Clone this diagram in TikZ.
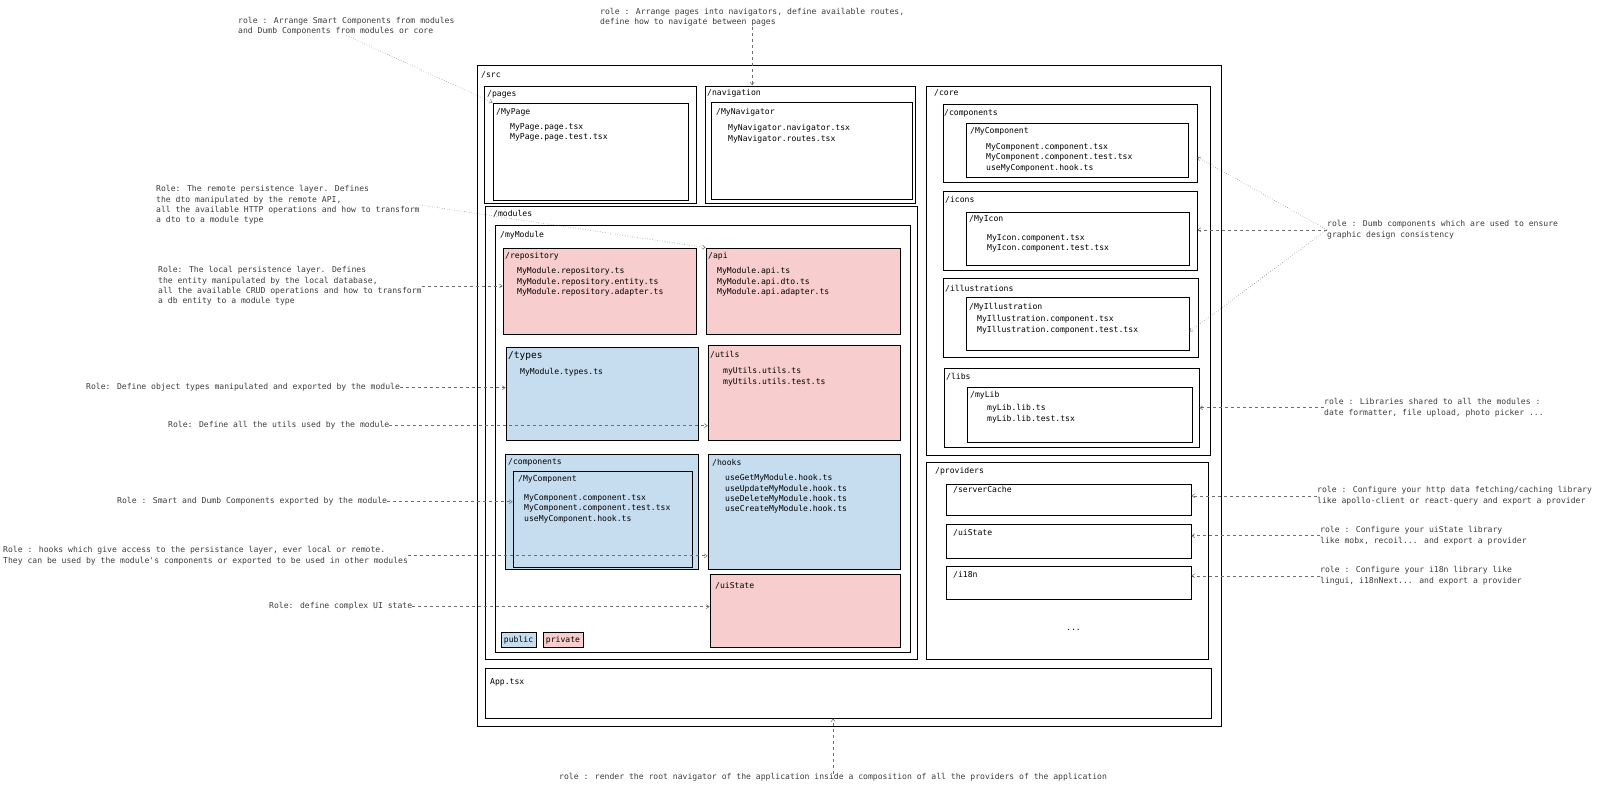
\documentclass[tikz,border=0pt]{standalone}
\usepackage{fontspec}
\newfontfamily\codefont{DejaVu Sans Mono}
\newcommand\codesize{\fontsize{8.1}{10.2}\selectfont}
\usetikzlibrary{arrows.meta,fit,calc}

\begin{document}
\begin{tikzpicture}[x=1pt,y=-1pt,
    folder/.style={draw=black,line width=0.7pt,inner sep=0pt},
    privfolder/.style={folder,fill=privpink},
    pubfolder/.style={folder,fill=pubblue},
    dirname/.style={anchor=north west,inner sep=0pt,font=\codefont\codesize},
    filelist/.style={anchor=north west,inner sep=0pt,align=left,font=\codefont\codesize},
    rolenote/.style={anchor=north west,inner sep=0pt,align=left,text=notegray,font=\codefont\codesize},
    rolelink/.style={draw=linkgray,dashed,line width=0.5pt,-{Straight Barb[length=3pt,width=4pt]}},
    roledots/.style={rolelink,dotted}]
    % Define colors
    \definecolor{privpink}{RGB}{247,205,205}
    \definecolor{pubblue}{RGB}{198,221,240}
    \definecolor{notegray}{RGB}{60,60,60}
    \definecolor{linkgray}{RGB}{110,110,110}

    \useasboundingbox (0,0) rectangle (1600,795);

    % Draw the /src folder
    \node[folder,fit={(477,65) (1221,726)}] (src) {};
    \node[dirname] (srcname) at (481,71.5) {/src};

    % Draw the pages and navigation folders
    \node[folder,fit={(484,86) (696,203)}] (pages) {};
    \node[dirname] (pagesname) at (487,90.5) {/pages};
    \node[folder,fit={(493,103) (688,200)}] (mypage) {};
    \node[dirname] (mypagename) at (496,108.5) {/MyPage};
    \node[filelist] (mypagefiles) at (510,123.5) {MyPage.page.tsx\\MyPage.page.test.tsx};

    \node[folder,fit={(705,86) (915,203)}] (navigation) {};
    \node[dirname] (navigationname) at (707,89.5) {/navigation};
    \node[folder,fit={(711,102) (912,199)}] (mynavigator) {};
    \node[dirname] (mynavigatorname) at (716,108.5) {/MyNavigator};
    \node[filelist] (mynavigatorfiles) at (728,124.5) {MyNavigator.navigator.tsx\\MyNavigator.routes.tsx};

    % Draw the /modules folder
    \node[folder,fit={(485,206) (917,659)}] (modules) {};
    \node[dirname] (modulesname) at (493,210.5) {/modules};
    \node[folder,fit={(495,225) (910,652)}] (mymodule) {};
    \node[dirname] (mymodulename) at (500,231.5) {/myModule};

    \node[privfolder,fit={(503,248) (696,334)}] (repository) {};
    \node[dirname] (repositoryname) at (505,252.5) {/repository};
    \node[filelist] (repositoryfiles) at (517,267.5) {MyModule.repository.ts\\MyModule.repository.entity.ts\\MyModule.repository.adapter.ts};

    \node[privfolder,fit={(706,248) (900,334)}] (api) {};
    \node[dirname] (apiname) at (708,252.5) {/api};
    \node[filelist] (apifiles) at (717,267.5) {MyModule.api.ts\\MyModule.api.dto.ts\\MyModule.api.adapter.ts};

    \node[pubfolder,fit={(506,347) (698,440)}] (types) {};
    \node[dirname,font=\codefont\fontsize{9.5}{11}\selectfont] (typesname) at (508,351.5) {/types};
    \node[filelist] (typesfiles) at (520,368.5) {MyModule.types.ts};

    \node[privfolder,fit={(708,345) (900,440)}] (utils) {};
    \node[dirname] (utilsname) at (710,351.5) {/utils};
    \node[filelist] (utilsfiles) at (723,367.5) {myUtils.utils.ts\\myUtils.utils.test.ts};

    \node[pubfolder,fit={(505,454) (698,569)}] (components) {};
    \node[dirname] (componentsname) at (508,458.5) {/components};
    \node[folder,fit={(513,471) (692,567)}] (mycomponent) {};
    \node[dirname] (mycomponentname) at (518,475.5) {/MyComponent};
    \node[filelist] (mycomponentfiles) at (524,494.5) {MyComponent.component.tsx\\MyComponent.component.test.tsx\\useMyComponent.hook.ts};

    \node[pubfolder,fit={(708,454) (900,569)}] (hooks) {};
    \node[dirname] (hooksname) at (712,459.5) {/hooks};
    \node[filelist] (hooksfiles) at (725,474.5) {useGetMyModule.hook.ts\\useUpdateMyModule.hook.ts\\useDeleteMyModule.hook.ts\\useCreateMyModule.hook.ts};

    \node[privfolder,fit={(710,574) (900,647)}] (uistate) {};
    \node[dirname] (uistatename) at (715,582.5) {/uiState};

    % Draw the legend
    \node[pubfolder,font=\codefont\codesize,inner sep=2pt,minimum width=35pt,minimum height=15pt] (public) at (518.5,640) {public};
    \node[privfolder,font=\codefont\codesize,inner sep=2pt,minimum width=40pt,minimum height=15pt] (private) at (563,640) {private};

    % Draw the /core folder
    \node[folder,fit={(926,86) (1210,455)}] (core) {};
    \node[dirname] (corename) at (934,89.5) {/core};

    \node[folder,fit={(943,104) (1197,182)}] (corecomponents) {};
    \node[dirname] (corecomponentsname) at (944,109.5) {/components};
    \node[folder,fit={(966,123) (1188,177)}] (corecomponent) {};
    \node[dirname] (corecomponentname) at (970,127.5) {/MyComponent};
    \node[filelist] (corecomponentfiles) at (986,143.5) {MyComponent.component.tsx\\MyComponent.component.test.tsx\\useMyComponent.hook.ts};

    \node[folder,fit={(943,191) (1197,270)}] (icons) {};
    \node[dirname] (iconsname) at (945,196.5) {/icons};
    \node[folder,fit={(966,212) (1189,265)}] (myicon) {};
    \node[dirname] (myiconname) at (969,215.5) {/MyIcon};
    \node[filelist] (myiconfiles) at (987,234.5) {MyIcon.component.tsx\\MyIcon.component.test.tsx};

    \node[folder,fit={(943,278) (1198,357)}] (illustrations) {};
    \node[dirname] (illustrationsname) at (945,285.5) {/illustrations};
    \node[folder,fit={(966,297) (1189,350)}] (myillustration) {};
    \node[dirname] (myillustrationname) at (969,303.5) {/MyIllustration};
    \node[filelist] (myillustrationfiles) at (977,315.5) {MyIllustration.component.tsx\\MyIllustration.component.test.tsx};

    \node[folder,fit={(944,368) (1199,447)}] (libs) {};
    \node[dirname] (libsname) at (946,373.5) {/libs};
    \node[folder,fit={(967,387) (1192,442)}] (mylib) {};
    \node[dirname] (mylibname) at (970,391.5) {/myLib};
    \node[filelist] (mylibfiles) at (987,404.5) {myLib.lib.ts\\myLib.lib.test.tsx};

    % Draw the /providers folder
    \node[folder,fit={(926,462) (1208,659)}] (providers) {};
    \node[dirname] (providersname) at (935,467.5) {/providers};
    \node[folder,fit={(946,484) (1191,515)}] (servercache) {};
    \node[dirname] (servercachename) at (953,486.5) {/serverCache};
    \node[folder,fit={(946,524) (1191,558)}] (uistatelib) {};
    \node[dirname] (uistatelibname) at (953,529.5) {/uiState};
    \node[folder,fit={(946,566) (1191,599)}] (i18n) {};
    \node[dirname] (i18nname) at (953,571.5) {/i18n};
    \node[dirname] (moreproviders) at (1066,629.5) {...};

    % Draw the App.tsx file
    \node[folder,fit={(485,668) (1211,718)}] (app) {};
    \node[dirname] (appname) at (490,678.5) {App.tsx};

    % Role notes
    \node[rolenote] (notepages) at (238,17) {role : Arrange Smart Components from modules\\and Dumb Components from modules or core};
    \node[rolenote] (notenav) at (600,8) {role : Arrange pages into navigators, define available routes,\\define how to navigate between pages};
    \node[rolenote] (noteremote) at (156,185.5) {Role: The remote persistence layer. Defines\\the dto manipulated by the remote API,\\all the available HTTP operations and how to transform\\a dto to a module type};
    \node[rolenote] (notelocal) at (158,266.5) {Role: The local persistence layer. Defines\\the entity manipulated by the local database,\\all the available CRUD operations and how to transform\\a db entity to a module type};
    \node[rolenote] (notetypes) at (86,383.5) {Role: Define object types manipulated and exported by the module};
    \node[rolenote] (noteutils) at (168,421.5) {Role: Define all the utils used by the module};
    \node[rolenote] (notecomponents) at (117,497.5) {Role : Smart and Dumb Components exported by the module};
    \node[rolenote] (notehooks) at (3,546.5) {Role : hooks which give access to the persistance layer, ever local or remote.\\They can be used by the module's components or exported to be used in other modules};
    \node[rolenote] (noteuistate) at (269,602.5) {Role: define complex UI state};
    \node[rolenote] (notedumb) at (1327,220.5) {role : Dumb components which are used to ensure\\graphic design consistency};
    \node[rolenote] (notelibs) at (1324,398.5) {role : Libraries shared to all the modules :\\date formatter, file upload, photo picker ...};
    \node[rolenote] (notehttp) at (1317,486.5) {role : Configure your http data fetching/caching library\\like apollo-client or react-query and export a provider};
    \node[rolenote] (noteuilib) at (1320,526.5) {role : Configure your uiState library\\like mobx, recoil... and export a provider};
    \node[rolenote] (notei18n) at (1320,566.5) {role : Configure your i18n library like\\lingui, i18nNext... and export a provider};
    \node[rolenote] (noteapp) at (559,773.5) {role : render the root navigator of the application inside a composition of all the providers of the application};

    % Role links
    \draw[roledots] (notepages.south) -- (mypage.north west);
    \draw[rolelink] (notenav.south) -- (notenav.south |- navigation.north);
    \draw[roledots] (noteremote.east) -- (api.north west);
    \draw[rolelink] (notelocal.east) -- (notelocal.east -| repository.west);
    \draw[rolelink] (notetypes.east) -- (notetypes.east -| types.west);
    \draw[rolelink] (noteutils.east) -- (noteutils.east -| utils.west);
    \draw[rolelink] (notecomponents.east) -- (notecomponents.east -| mycomponent.west);
    \draw[rolelink] (notehooks.east) -- (notehooks.east -| hooks.west);
    \draw[rolelink] (noteuistate.east) -- (noteuistate.east -| uistate.west);
    \draw[roledots] (notedumb.west) -- ($(corecomponents.north east)!0.68!(corecomponents.south east)$);
    \draw[rolelink] (notedumb.west) -- (notedumb.west -| icons.east);
    \draw[roledots] (notedumb.west) -- ($(myillustration.north east)!0.65!(myillustration.south east)$);
    \draw[rolelink] (notelibs.west) -- (notelibs.west -| libs.east);
    \draw[rolelink] (notehttp.west) -- (notehttp.west -| servercache.east);
    \draw[rolelink] (noteuilib.west) -- (noteuilib.west -| uistatelib.east);
    \draw[rolelink] (notei18n.west) -- (notei18n.west -| i18n.east);
    \draw[rolelink] (noteapp.north) -- (noteapp.north |- app.south);
\end{tikzpicture}
\end{document}
